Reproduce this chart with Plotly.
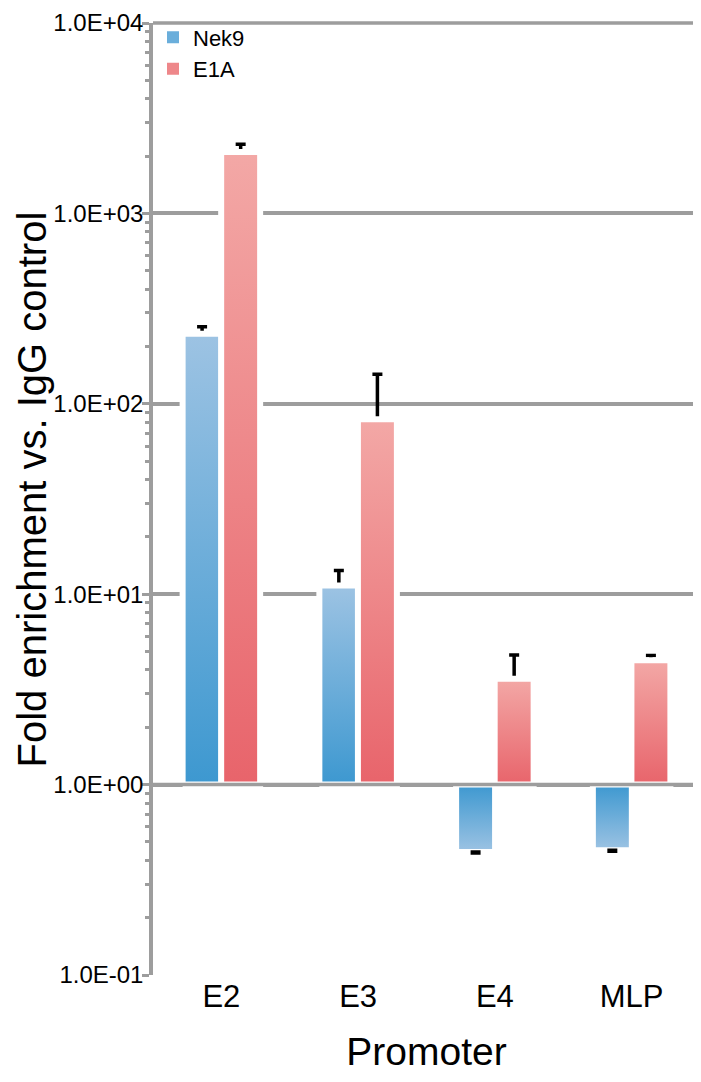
import plotly.graph_objects as go

# ---- data ----
categories = ["E2", "E3", "E4", "MLP"]
nek9 = [233, 11.1, 0.443, 0.452]
nek9_err_plus = [21, 2.2, 0, 0]
nek9_err_minus = [0, 0, 0.006, 0.006]
e1a = [2100, 83, 3.6, 4.5]
e1a_err_plus = [210, 60, 1.19, 0.27]
e1a_err_minus = [0, 0, 0, 0]
ytick_vals = [0.1, 1, 10, 100, 1000, 10000]
ytick_text = ["1.0E-01", "1.0E+00", "1.0E+01", "1.0E+02", "1.0E+03", "1.0E+04"]
baseline = 1
y_title = "Fold enrichment vs. IgG control"
x_title = "Promoter"

# ---- style ----
FONT = "Liberation Sans, Arial, sans-serif"
GRID = "#9d9d9d"
BLUE_DARK, BLUE_LIGHT = "#3d98d0", "#9dc3e3"
PINK_DARK, PINK_LIGHT = "#e8646b", "#f3a8a6"
BAR_W = 0.285
OFFS = [-0.141, 0.141]
ERR = dict(color="black", thickness=3.5, width=5)

series = [
    ("Nek9", nek9, nek9_err_plus, nek9_err_minus, BLUE_DARK, BLUE_LIGHT, "#6aaedb"),
    ("E1A", e1a, e1a_err_plus, e1a_err_minus, PINK_DARK, PINK_LIGHT, "#ee878a"),
]

xs = list(range(len(categories)))
fig = go.Figure()

# real bars (legend + upward error bars)
for k, (name, vals, ep, em, dark, light, mid) in enumerate(series):
    fig.add_trace(go.Bar(
        name=name, x=xs, y=[v - baseline for v in vals], base=baseline,
        width=BAR_W, offset=OFFS[k] - BAR_W / 2,
        marker=dict(color=mid, line=dict(width=0)),
        error_y=dict(type="data", symmetric=False,
                     array=[p if v >= baseline else 0 for v, p in zip(vals, ep)],
                     arrayminus=[0] * len(vals), **ERR),
        showlegend=True,
    ))

# gradient overlays drawn from the same values
for k, (name, vals, ep, em, dark, light, mid) in enumerate(series):
    for i, v in enumerate(vals):
        x0 = xs[i] + OFFS[k] - BAR_W / 2
        x1 = xs[i] + OFFS[k] + BAR_W / 2
        up = v >= baseline
        cs = [[0, dark], [1, light]] if up else [[0, light], [1, dark]]
        fig.add_trace(go.Scatter(
            x=[x0, x0, x1, x1, x0], y=[baseline, v, v, baseline, baseline],
            mode="lines", fill="toself",
            fillgradient=dict(type="vertical", colorscale=cs),
            line=dict(color="white", width=6),
            showlegend=False, hoverinfo="skip",
        ))

# downward error bars on top of the bars below the baseline
for k, (name, vals, ep, em, dark, light, mid) in enumerate(series):
    idx = [i for i, v in enumerate(vals) if v < baseline]
    if idx:
        fig.add_trace(go.Scatter(
            x=[xs[i] + OFFS[k] for i in idx], y=[vals[i] for i in idx],
            mode="markers", marker=dict(size=1, color="rgba(0,0,0,0)"),
            error_y=dict(type="data", symmetric=False,
                         array=[ep[i] for i in idx], arrayminus=[em[i] for i in idx], **ERR),
            showlegend=False, hoverinfo="skip",
        ))

shapes = [
    dict(type="line", xref="paper", x0=0, x1=1, yref="y", y0=baseline, y1=baseline,
         line=dict(color=GRID, width=3.5), layer="above"),
    dict(type="line", xref="paper", x0=0, x1=1, yref="paper", y0=1, y1=1,
         line=dict(color=GRID, width=3.5), layer="below"),
]
for i in range(len(categories)):
    shapes.append(dict(type="line", xref="x", x0=i + 0.5, x1=i + 0.5,
                       yref="y", ysizemode="pixel", yanchor=baseline, y0=0, y1=-7,
                       line=dict(color=GRID, width=3), layer="above"))

fig.update_layout(
    width=693, height=1074,
    margin=dict(l=145, r=1, t=8, b=107),
    paper_bgcolor="white", plot_bgcolor="white",
    font=dict(family=FONT, color="black"),
    barmode="overlay",
    showlegend=True,
    legend=dict(x=0.0, y=1.007, xanchor="left", yanchor="top",
                font=dict(size=22, family=FONT), bgcolor="rgba(0,0,0,0)",
                tracegroupgap=0, itemwidth=30),
    shapes=shapes,
    annotations=[dict(text=y_title, textangle=-90, xref="paper", yref="paper",
                      x=-0.2212, y=0.51, xanchor="center", yanchor="middle",
                      showarrow=False, font=dict(size=40, family=FONT))],
    xaxis=dict(
        range=[-0.5, len(categories) - 0.5],
        tickmode="array", tickvals=xs, ticktext=categories,
        tickfont=dict(size=31, family=FONT), showgrid=False, zeroline=False,
        showline=False, ticks="",
        title=dict(text=x_title, font=dict(size=39, family=FONT), standoff=24),
    ),
    yaxis=dict(
        type="log", range=[-1, 4],
        tickmode="array", tickvals=ytick_vals, ticktext=ytick_text,
        tickfont=dict(size=24, family=FONT),
        ticklabeloverflow="allow", ticklabelstandoff=-6,
        showgrid=True, gridcolor=GRID, gridwidth=3.5,
        showline=True, linecolor=GRID, linewidth=3.5,
        ticks="outside", ticklen=7, tickwidth=3, tickcolor=GRID,
        minor=dict(ticks="outside", ticklen=4, tickwidth=2.5, tickcolor=GRID,
                   dtick="D1", showgrid=False),
        zeroline=False,
    ),
)

fig.write_html("out.html")
